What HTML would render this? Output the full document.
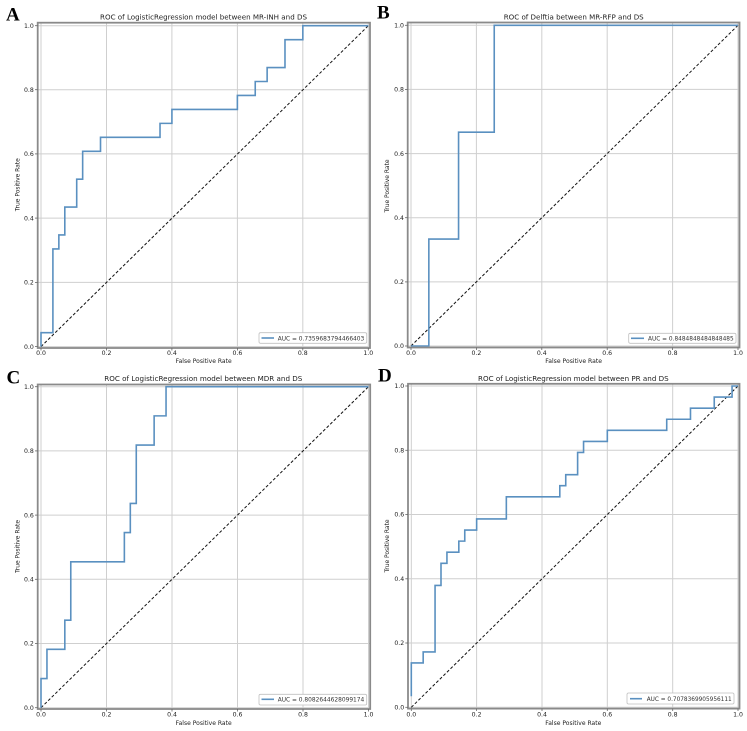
<!DOCTYPE html>
<html><head><meta charset="utf-8"><style>
html,body{margin:0;padding:0;background:#fff;}
svg{display:block;}
text{font-family:"DejaVu Sans","Liberation Sans",sans-serif;fill:#222;}
.t{font-size:7.3px;}
.lab{font-size:6px;}
.tk{font-size:6.2px;fill:#333;}
.lg{font-size:6.2px;fill:#333;}
.big{font-family:"Liberation Serif",serif;font-weight:bold;font-size:19px;fill:#000;}
.grid line{stroke:#cfcfcf;stroke-width:1;}
.frame{fill:none;stroke:#8a8a8a;stroke-width:1.8;}
.curve{fill:none;stroke:#5a90c0;stroke-width:1.6;vector-effect:non-scaling-stroke;stroke-linejoin:miter;}
.diag{stroke:#111;stroke-width:1;stroke-dasharray:3,2;}
.tm line{stroke:#666;stroke-width:0.8;}
.lgbox{fill:#fff;stroke:#c0c0c0;stroke-width:0.8;}
.lgl{stroke:#5a90c0;stroke-width:1.6;}
</style></head><body>
<svg width="747" height="731" viewBox="0 0 747 731" xmlns="http://www.w3.org/2000/svg">

<!-- ================= PANEL A ================= -->
<g class="grid">
<line x1="41" y1="22.7" x2="41" y2="348"/><line x1="106.5" y1="22.7" x2="106.5" y2="348"/><line x1="171.9" y1="22.7" x2="171.9" y2="348"/><line x1="237.4" y1="22.7" x2="237.4" y2="348"/><line x1="302.8" y1="22.7" x2="302.8" y2="348"/><line x1="368.3" y1="22.7" x2="368.3" y2="348"/>
<line x1="37.7" y1="346.6" x2="370" y2="346.6"/><line x1="37.7" y1="282.4" x2="370" y2="282.4"/><line x1="37.7" y1="218.1" x2="370" y2="218.1"/><line x1="37.7" y1="153.9" x2="370" y2="153.9"/><line x1="37.7" y1="89.7" x2="370" y2="89.7"/><line x1="37.7" y1="25.7" x2="370" y2="25.7"/>
</g>
<line class="diag" x1="41" y1="346.6" x2="368.3" y2="25.7"/>
<g transform="translate(41,346.6) scale(5.9509,-13.952)">
<polyline class="curve" points="0,0 0,1 2,1 2,7 3,7 3,8 4,8 4,10 6,10 6,12 7,12 7,14 10,14 10,15 20,15 20,16 22,16 22,17 33,17 33,18 36,18 36,19 38,19 38,20 41,20 41,22 44,22 44,23 55,23"/>
</g>
<rect class="frame" x="37.7" y="22.7" width="332.3" height="325.3"/>
<g class="tm">
<line x1="41" y1="348" x2="41" y2="350.5"/><line x1="106.5" y1="348" x2="106.5" y2="350.5"/><line x1="171.9" y1="348" x2="171.9" y2="350.5"/><line x1="237.4" y1="348" x2="237.4" y2="350.5"/><line x1="302.8" y1="348" x2="302.8" y2="350.5"/><line x1="368.3" y1="348" x2="368.3" y2="350.5"/>
<line x1="35" y1="346.6" x2="37.7" y2="346.6"/><line x1="35" y1="282.4" x2="37.7" y2="282.4"/><line x1="35" y1="218.1" x2="37.7" y2="218.1"/><line x1="35" y1="153.9" x2="37.7" y2="153.9"/><line x1="35" y1="89.7" x2="37.7" y2="89.7"/><line x1="35" y1="25.7" x2="37.7" y2="25.7"/>
</g>
<g class="tk" text-anchor="middle">
<text x="41" y="355">0.0</text><text x="106.5" y="355">0.2</text><text x="171.9" y="355">0.4</text><text x="237.4" y="355">0.6</text><text x="302.8" y="355">0.8</text><text x="368.3" y="355">1.0</text>
</g>
<g class="tk" text-anchor="end">
<text x="33.8" y="348.8">0.0</text><text x="33.8" y="284.6">0.2</text><text x="33.8" y="220.3">0.4</text><text x="33.8" y="156.1">0.6</text><text x="33.8" y="91.9">0.8</text><text x="33.8" y="27.9">1.0</text>
</g>
<rect class="lgbox" x="259" y="332.7" width="107.7" height="10.6" rx="1.5"/>
<line class="lgl" x1="261.5" y1="338" x2="274" y2="338"/>
<text class="lg" x="277.7" y="340.3" textLength="86.6" lengthAdjust="spacingAndGlyphs">AUC = 0.7359683794466403</text>
<text class="t" x="100" y="19.4" textLength="207" lengthAdjust="spacingAndGlyphs">ROC of LogisticRegression model between MR-INH and DS</text>
<text class="lab" x="175.7" y="363.2" textLength="56" lengthAdjust="spacingAndGlyphs">False Positive Rate</text>
<text class="lab" transform="translate(19.6,211.2) rotate(-90)" textLength="53" lengthAdjust="spacingAndGlyphs">True Positive Rate</text>
<text class="big" x="6" y="20.7">A</text>

<!-- ================= PANEL B ================= -->
<g class="grid">
<line x1="411" y1="22.5" x2="411" y2="347.5"/><line x1="476.4" y1="22.5" x2="476.4" y2="347.5"/><line x1="541.8" y1="22.5" x2="541.8" y2="347.5"/><line x1="607.2" y1="22.5" x2="607.2" y2="347.5"/><line x1="672.6" y1="22.5" x2="672.6" y2="347.5"/><line x1="738" y1="22.5" x2="738" y2="347.5"/>
<line x1="407.7" y1="346" x2="739.5" y2="346"/><line x1="407.7" y1="281.9" x2="739.5" y2="281.9"/><line x1="407.7" y1="217.7" x2="739.5" y2="217.7"/><line x1="407.7" y1="153.6" x2="739.5" y2="153.6"/><line x1="407.7" y1="89.4" x2="739.5" y2="89.4"/><line x1="407.7" y1="25.3" x2="739.5" y2="25.3"/>
</g>
<line class="diag" x1="411" y1="346" x2="738" y2="25.3"/>
<g transform="translate(411,346) scale(5.9455,-106.9)">
<polyline class="curve" points="0,0 3,0 3,1 8,1 8,2 14,2 14,3 55,3"/>
</g>
<rect class="frame" x="407.7" y="22.5" width="331.8" height="325"/>
<g class="tm">
<line x1="411" y1="347.5" x2="411" y2="350"/><line x1="476.4" y1="347.5" x2="476.4" y2="350"/><line x1="541.8" y1="347.5" x2="541.8" y2="350"/><line x1="607.2" y1="347.5" x2="607.2" y2="350"/><line x1="672.6" y1="347.5" x2="672.6" y2="350"/><line x1="738" y1="347.5" x2="738" y2="350"/>
<line x1="405" y1="346" x2="407.7" y2="346"/><line x1="405" y1="281.9" x2="407.7" y2="281.9"/><line x1="405" y1="217.7" x2="407.7" y2="217.7"/><line x1="405" y1="153.6" x2="407.7" y2="153.6"/><line x1="405" y1="89.4" x2="407.7" y2="89.4"/><line x1="405" y1="25.3" x2="407.7" y2="25.3"/>
</g>
<g class="tk" text-anchor="middle">
<text x="411" y="355">0.0</text><text x="476.4" y="355">0.2</text><text x="541.8" y="355">0.4</text><text x="607.2" y="355">0.6</text><text x="672.6" y="355">0.8</text><text x="738" y="355">1.0</text>
</g>
<g class="tk" text-anchor="end">
<text x="404" y="348.2">0.0</text><text x="404" y="284.1">0.2</text><text x="404" y="219.9">0.4</text><text x="404" y="155.8">0.6</text><text x="404" y="91.6">0.8</text><text x="404" y="27.5">1.0</text>
</g>
<rect class="lgbox" x="628.7" y="333.3" width="107.3" height="10" rx="1.5"/>
<line class="lgl" x1="631" y1="338.3" x2="644" y2="338.3"/>
<text class="lg" x="648" y="340.6" textLength="85.7" lengthAdjust="spacingAndGlyphs">AUC = 0.8484848484848485</text>
<text class="t" x="503.7" y="19.4" textLength="140" lengthAdjust="spacingAndGlyphs">ROC of Delftia between MR-RFP and DS</text>
<text class="lab" x="545.3" y="363.2" textLength="56.7" lengthAdjust="spacingAndGlyphs">False Positive Rate</text>
<text class="lab" transform="translate(389,212.5) rotate(-90)" textLength="53" lengthAdjust="spacingAndGlyphs">True Positive Rate</text>
<text class="big" x="377" y="18.6">B</text>

<!-- ================= PANEL C ================= -->
<g class="grid">
<line x1="41" y1="384.5" x2="41" y2="709"/><line x1="106.5" y1="384.5" x2="106.5" y2="709"/><line x1="172" y1="384.5" x2="172" y2="709"/><line x1="237.5" y1="384.5" x2="237.5" y2="709"/><line x1="303" y1="384.5" x2="303" y2="709"/><line x1="368.5" y1="384.5" x2="368.5" y2="709"/>
<line x1="37.7" y1="707.7" x2="370.2" y2="707.7"/><line x1="37.7" y1="643.5" x2="370.2" y2="643.5"/><line x1="37.7" y1="579.3" x2="370.2" y2="579.3"/><line x1="37.7" y1="515.1" x2="370.2" y2="515.1"/><line x1="37.7" y1="450.9" x2="370.2" y2="450.9"/><line x1="37.7" y1="386.7" x2="370.2" y2="386.7"/>
</g>
<line class="diag" x1="41" y1="707.7" x2="368.5" y2="386.7"/>
<g transform="translate(41,707.7) scale(5.9545,-29.182)">
<polyline class="curve" points="0,0 0,1 1,1 1,2 4,2 4,3 5,3 5,5 14,5 14,6 15,6 15,7 16,7 16,9 19,9 19,10 21,10 21,11 55,11"/>
</g>
<rect class="frame" x="37.7" y="384.5" width="332.5" height="324.5"/>
<g class="tm">
<line x1="41" y1="709" x2="41" y2="711.5"/><line x1="106.5" y1="709" x2="106.5" y2="711.5"/><line x1="172" y1="709" x2="172" y2="711.5"/><line x1="237.5" y1="709" x2="237.5" y2="711.5"/><line x1="303" y1="709" x2="303" y2="711.5"/><line x1="368.5" y1="709" x2="368.5" y2="711.5"/>
<line x1="35" y1="707.7" x2="37.7" y2="707.7"/><line x1="35" y1="643.5" x2="37.7" y2="643.5"/><line x1="35" y1="579.3" x2="37.7" y2="579.3"/><line x1="35" y1="515.1" x2="37.7" y2="515.1"/><line x1="35" y1="450.9" x2="37.7" y2="450.9"/><line x1="35" y1="386.7" x2="37.7" y2="386.7"/>
</g>
<g class="tk" text-anchor="middle">
<text x="41" y="716.6">0.0</text><text x="106.5" y="716.6">0.2</text><text x="172" y="716.6">0.4</text><text x="237.5" y="716.6">0.6</text><text x="303" y="716.6">0.8</text><text x="368.5" y="716.6">1.0</text>
</g>
<g class="tk" text-anchor="end">
<text x="33.8" y="709.9">0.0</text><text x="33.8" y="645.7">0.2</text><text x="33.8" y="581.5">0.4</text><text x="33.8" y="517.3">0.6</text><text x="33.8" y="453.1">0.8</text><text x="33.8" y="388.9">1.0</text>
</g>
<rect class="lgbox" x="259" y="694.3" width="107.7" height="10.7" rx="1.5"/>
<line class="lgl" x1="261.5" y1="699.3" x2="274" y2="699.3"/>
<text class="lg" x="277.7" y="701.7" textLength="86.6" lengthAdjust="spacingAndGlyphs">AUC = 0.8082644628099174</text>
<text class="t" x="104.3" y="381" textLength="198" lengthAdjust="spacingAndGlyphs">ROC of LogisticRegression model between MDR and DS</text>
<text class="lab" x="175.7" y="724.8" textLength="56" lengthAdjust="spacingAndGlyphs">False Positive Rate</text>
<text class="lab" transform="translate(19.6,573) rotate(-90)" textLength="53" lengthAdjust="spacingAndGlyphs">True Positive Rate</text>
<text class="big" x="6.5" y="383.3">C</text>

<!-- ================= PANEL D ================= -->
<g class="grid">
<line x1="411.3" y1="383.8" x2="411.3" y2="708.6"/><line x1="476.6" y1="383.8" x2="476.6" y2="708.6"/><line x1="542" y1="383.8" x2="542" y2="708.6"/><line x1="607.3" y1="383.8" x2="607.3" y2="708.6"/><line x1="672.7" y1="383.8" x2="672.7" y2="708.6"/><line x1="738" y1="383.8" x2="738" y2="708.6"/>
<line x1="408" y1="707.3" x2="739.5" y2="707.3"/><line x1="408" y1="643" x2="739.5" y2="643"/><line x1="408" y1="578.8" x2="739.5" y2="578.8"/><line x1="408" y1="514.5" x2="739.5" y2="514.5"/><line x1="408" y1="450.3" x2="739.5" y2="450.3"/><line x1="408" y1="386" x2="739.5" y2="386"/>
</g>
<line class="diag" x1="411.3" y1="707.3" x2="738" y2="386"/>
<g transform="translate(411.3,707.3) scale(5.94,-11.079)">
<polyline class="curve" points="0,1 0,4 2,4 2,5 4,5 4,11 5,11 5,13 6,13 6,14 8,14 8,15 9,15 9,16 11,16 11,17 16,17 16,19 25,19 25,20 26,20 26,21 28,21 28,23 29,23 29,24 33,24 33,25 43,25 43,26 47,26 47,27 51,27 51,28 54,28 54,29 55,29"/>
</g>
<rect class="frame" x="408" y="383.8" width="331.5" height="324.8"/>
<g class="tm">
<line x1="411.3" y1="708.6" x2="411.3" y2="711" /><line x1="476.6" y1="708.6" x2="476.6" y2="711"/><line x1="542" y1="708.6" x2="542" y2="711"/><line x1="607.3" y1="708.6" x2="607.3" y2="711"/><line x1="672.7" y1="708.6" x2="672.7" y2="711"/><line x1="738" y1="708.6" x2="738" y2="711"/>
<line x1="405.3" y1="707.3" x2="408" y2="707.3"/><line x1="405.3" y1="643" x2="408" y2="643"/><line x1="405.3" y1="578.8" x2="408" y2="578.8"/><line x1="405.3" y1="514.5" x2="408" y2="514.5"/><line x1="405.3" y1="450.3" x2="408" y2="450.3"/><line x1="405.3" y1="386" x2="408" y2="386"/>
</g>
<g class="tk" text-anchor="middle">
<text x="411.3" y="716.4">0.0</text><text x="476.6" y="716.4">0.2</text><text x="542" y="716.4">0.4</text><text x="607.3" y="716.4">0.6</text><text x="672.7" y="716.4">0.8</text><text x="738" y="716.4">1.0</text>
</g>
<g class="tk" text-anchor="end">
<text x="404.2" y="709.5">0.0</text><text x="404.2" y="645.2">0.2</text><text x="404.2" y="581">0.4</text><text x="404.2" y="516.7">0.6</text><text x="404.2" y="452.5">0.8</text><text x="404.2" y="388.2">1.0</text>
</g>
<rect class="lgbox" x="627" y="693" width="107" height="11" rx="1.5"/>
<line class="lgl" x1="630" y1="698.7" x2="642" y2="698.7"/>
<text class="lg" x="646.7" y="701" textLength="85" lengthAdjust="spacingAndGlyphs">AUC = 0.7078369905956111</text>
<text class="t" x="478" y="381" textLength="190.7" lengthAdjust="spacingAndGlyphs">ROC of LogisticRegression model between PR and DS</text>
<text class="lab" x="545.3" y="724.8" textLength="56" lengthAdjust="spacingAndGlyphs">False Positive Rate</text>
<text class="lab" transform="translate(389,572.5) rotate(-90)" textLength="53" lengthAdjust="spacingAndGlyphs">True Positive Rate</text>
<text class="big" x="378" y="381.6">D</text>

</svg>
</body></html>
